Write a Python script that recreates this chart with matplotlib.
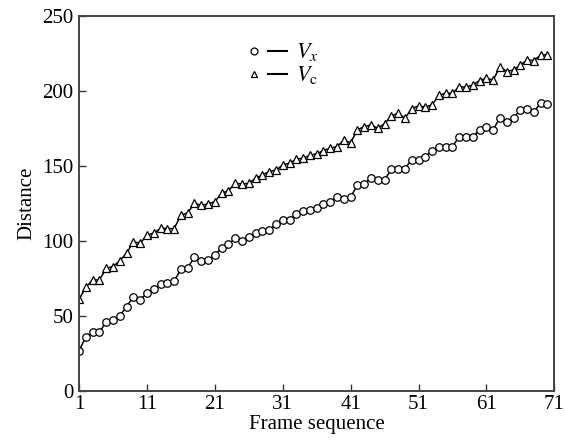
import matplotlib
matplotlib.use("Agg")
import matplotlib.pyplot as plt
from matplotlib.lines import Line2D
from matplotlib.legend_handler import HandlerTuple

plt.rcParams['font.family'] = ['Liberation Serif', 'DejaVu Serif']
plt.rcParams['mathtext.fontset'] = 'stix'

# frame index 1..70
frames = list(range(1, 71))

# V_x (circles)
vx = [26.7, 36, 39, 39, 46, 47, 50, 56, 62.7, 60.7,
      65, 67.7, 71, 72, 73, 81, 82, 89, 86.5, 87,
      90.5, 95, 97.6, 101.6, 100, 102.7, 105, 106.7, 107, 111,
      113.8, 114, 117.8, 119.5, 120.5, 122, 124.5, 126, 129, 128,
      129, 137, 138, 141.6, 140.5, 140.5, 147.6, 148, 148, 154,
      153.8, 156, 160, 162.7, 162.7, 162.7, 169.3, 169, 169, 174,
      176, 174, 182, 179, 182, 187, 187.6, 186, 191.6, 191]

# V_c (triangles)
vc = [61, 69, 73.8, 73.8, 81.6, 82.7, 86.7, 91.6, 99.3, 98.2,
      103.8, 105, 108.3, 108, 108, 117, 118.5, 125, 123.5, 124.5,
      126, 131.6, 133.3, 138.2, 137.8, 138.2, 141.6, 143.8, 146, 147,
      150.5, 151.6, 154.2, 155, 156.8, 158, 160, 161.6, 162.7, 167,
      165.3, 173.8, 176, 177, 175, 178, 183, 185, 181.6, 188,
      189.8, 189, 190.5, 197, 198.2, 198.2, 202.7, 202.2, 203.8, 206.7,
      208.3, 207, 216, 212.7, 213.8, 217, 220.5, 220, 223.8, 223.8]

x_ticks = [1, 11, 21, 31, 41, 51, 61, 71]
y_ticks = [0, 50, 100, 150, 200, 250]

fig = plt.figure(figsize=(5.65, 4.45), dpi=100)
ax = fig.add_axes([0.140, 0.122, 0.841, 0.843])

ax.plot(frames, vx, color='black', lw=1.1, marker='o', markersize=5.4,
        markerfacecolor='white', markeredgecolor='black', markeredgewidth=0.9)
ax.plot(frames, vc, color='black', lw=1.1, marker='^', markersize=5.4,
        markerfacecolor='white', markeredgecolor='black', markeredgewidth=0.9)

ax.set_xlim(1, 71)
ax.set_ylim(0, 250)
ax.set_xticks(x_ticks)
ax.set_yticks(y_ticks)
ax.tick_params(direction='in', length=5, width=1, labelsize=15, pad=4,
               colors='#333333', labelcolor='black')
ax.tick_params(axis='x', pad=3)
for s in ax.spines.values():
    s.set_linewidth(1.4)
    s.set_color('#444444')

ax.set_xlabel('Frame sequence', fontsize=15, labelpad=1)
ax.set_ylabel('Distance', fontsize=15, labelpad=4)

# legend: marker, then a short line, then the label
m1 = Line2D([], [], ls='none', marker='o', markersize=5, markerfacecolor='white',
            markeredgecolor='black', markeredgewidth=0.9)
m2 = Line2D([], [], ls='none', marker='^', markersize=5, markerfacecolor='white',
            markeredgecolor='black', markeredgewidth=0.9)
l1 = Line2D([], [], color='black', lw=1.5)
l2 = Line2D([], [], color='black', lw=1.5)
ax.legend([(m1, l1), (m2, l2)], [r'$V_x$', r'$V_{\mathrm{c}}$'],
          handler_map={tuple: HandlerTuple(ndivide=None, pad=0.2)},
          loc='upper left', bbox_to_anchor=(0.33, 0.955), frameon=False,
          fontsize=16, handlelength=1.9, handletextpad=0.4, labelspacing=0.05,
          borderaxespad=0)

fig.savefig('out.png', dpi=100)
